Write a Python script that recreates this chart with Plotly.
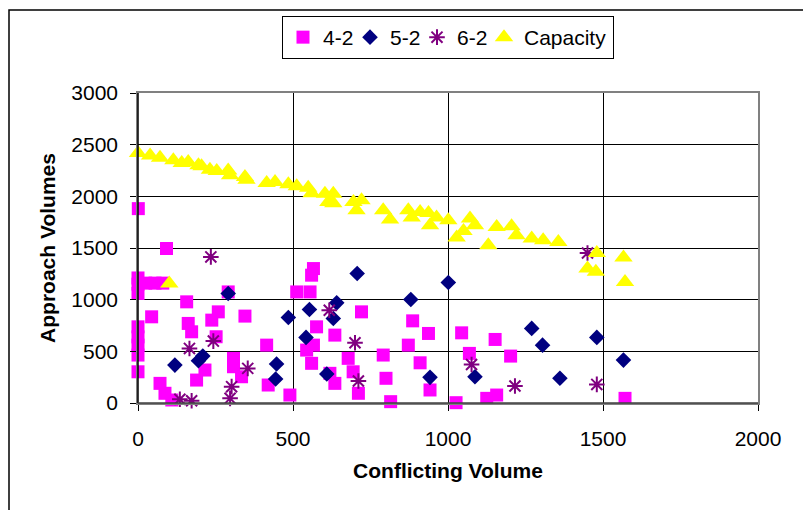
import plotly.graph_objects as go

# ---- data ----
x_42 = [1, 92, 0, 0, 0, 25, 55, 80, 157, 44, 0, 0, 0, 0, 0, 162, 173, 238, 259, 252, 291, 345,
        216, 189, 71, 87, 109, 308, 308, 334, 415, 420, 490, 512, 555, 566, 560, 576, 544, 566,
        560, 721, 635, 678, 694, 635, 711, 619, 791, 800, 815, 886, 937, 872, 910, 942, 1026,
        1044, 1069, 1152, 1202, 1125, 1157, 1571]
y_42 = [1881, 1495, 1210, 1150, 1060, 1160, 1160, 1160, 979, 834, 737, 640, 560, 464, 302, 770,
        689, 802, 882, 641, 1075, 841, 319, 222, 190, 94, 29, 432, 351, 254, 560, 174, 77, 1075,
        1075, 1301, 1237, 737, 512, 560, 384, 882, 657, 432, 302, 190, 94, 287, 464, 239, 13,
        795, 673, 560, 389, 126, 3, 679, 480, 615, 454, 45, 77, 45]

x_52 = [291, 119, 209, 195, 447, 444, 485, 553, 542, 609, 707, 641, 630, 880, 1001, 942, 1087,
        1270, 1305, 1480, 1361, 1566]
y_52 = [1060, 367, 454, 409, 377, 232, 828, 905, 635, 280, 1253, 969, 818, 1002, 1166, 248, 254,
        722, 560, 635, 239, 415]

x_62 = [235, 243, 166, 354, 302, 297, 135, 173, 617, 700, 711, 1076, 1216, 1450, 1480]
y_62 = [1414, 599, 528, 335, 158, 45, 36, 22, 898, 583, 213, 373, 164, 1452, 180]

x_cap = [0, 39, 71, 114, 141, 162, 195, 205, 232, 254, 291, 297, 345, 350, 415, 442, 485, 512,
         549, 560, 603, 614, 630, 630, 695, 705, 721, 791, 813, 872, 883, 910, 937, 942, 963,
         1001, 1028, 1050, 1071, 1087, 1130, 1157, 1205, 1221, 1270, 1307, 1356, 1450, 1477,
         1480, 1566, 1571, 101]
y_cap = [2420, 2396, 2374, 2348, 2322, 2332, 2300, 2290, 2258, 2245, 2251, 2203, 2187, 2160,
         2128, 2138, 2116, 2097, 2084, 2030, 2026, 1945, 2026, 1932, 1945, 1865, 1961, 1865,
         1775, 1865, 1794, 1849, 1839, 1720, 1794, 1768, 1601, 1665, 1785, 1720, 1527, 1703,
         1710, 1623, 1591, 1575, 1558, 1301, 1269, 1452, 1408, 1172, 1156]

series_names = ["4-2", "5-2", "6-2", "Capacity"]
x_title = "Conflicting Volume"
y_title = "Approach Volumes"
x_ticks = [0, 500, 1000, 1500, 2000]
y_ticks = [0, 500, 1000, 1500, 2000, 2500, 3000]

FONT = "Liberation Sans, Arial, sans-serif"

fig = go.Figure()
fig.add_trace(go.Scatter(x=x_42, y=y_42, mode="markers", name=series_names[0], cliponaxis=False,
                         legendwidth=22,
                         marker=dict(symbol="square", size=13, color="#FF00FF")))
fig.add_trace(go.Scatter(x=x_52, y=y_52, mode="markers", name=series_names[1], cliponaxis=False,
                         legendwidth=22,
                         marker=dict(symbol="diamond", size=12, color="#000080")))
fig.add_trace(go.Scatter(x=x_62, y=y_62, mode="markers", name=series_names[2], cliponaxis=False,
                         legendwidth=22,
                         marker=dict(symbol="asterisk-open", size=13, color="#800080",
                                     line=dict(color="#800080", width=2))))
fig.add_trace(go.Scatter(x=x_cap, y=y_cap, mode="markers", name=series_names[3], cliponaxis=False,
                         legendwidth=84,
                         marker=dict(symbol="triangle-up", size=16, color="#FFFF00")))

L, R, T, B = 138, 45, 93, 107
W, H = 803, 510
pw, ph = W - L - R, H - T - B

def px_to_paper_x(px):
    return (px - L) / pw

def px_to_paper_y(py):
    return (H - B - py) / ph

fig.update_layout(
    width=W, height=H,
    margin=dict(l=L, r=R, t=T, b=B),
    paper_bgcolor="white", plot_bgcolor="white",
    font=dict(family=FONT, size=21, color="black"),
    showlegend=True,
    legend=dict(orientation="h", x=0.5, xanchor="center", y=px_to_paper_y(16), yanchor="top",
                bordercolor="black", borderwidth=1, bgcolor="white",
                font=dict(family=FONT, size=21), itemwidth=30),
    xaxis=dict(range=[0, 2000], tickvals=x_ticks, ticktext=[str(v) for v in x_ticks],
               showgrid=True, gridcolor="black", gridwidth=1,
               showline=True, linecolor="#808080", linewidth=1.5, mirror=True,
               ticks="outside", ticklen=6, tickcolor="black", zeroline=False,
               ticklabelstandoff=10,
               title=dict(text="<b>" + x_title + "</b>", standoff=14,
                          font=dict(family=FONT, size=21))),
    yaxis=dict(range=[0, 3000], tickvals=y_ticks, ticktext=[str(v) for v in y_ticks],
               showgrid=True, gridcolor="black", gridwidth=1,
               showline=True, linecolor="#808080", linewidth=1.5, mirror=True,
               ticks="outside", ticklen=6, tickcolor="black", zeroline=False,
               ticklabelstandoff=8,
               title=dict(text="<b>" + y_title + "</b>", standoff=10,
                          font=dict(family=FONT, size=21))),
    shapes=[
        dict(type="rect", xref="paper", yref="paper",
             x0=px_to_paper_x(9), x1=px_to_paper_x(830),
             y0=px_to_paper_y(540), y1=px_to_paper_y(10),
             line=dict(color="black", width=1.5), layer="below"),
        dict(type="line", xref="paper", yref="paper", x0=0, x1=0, y0=0, y1=1,
             line=dict(color="black", width=1.5)),
        dict(type="line", xref="paper", yref="paper", x0=0, x1=1, y0=0, y1=0,
             line=dict(color="#404040", width=1.5)),
    ],
)

fig.write_html("out.html")
